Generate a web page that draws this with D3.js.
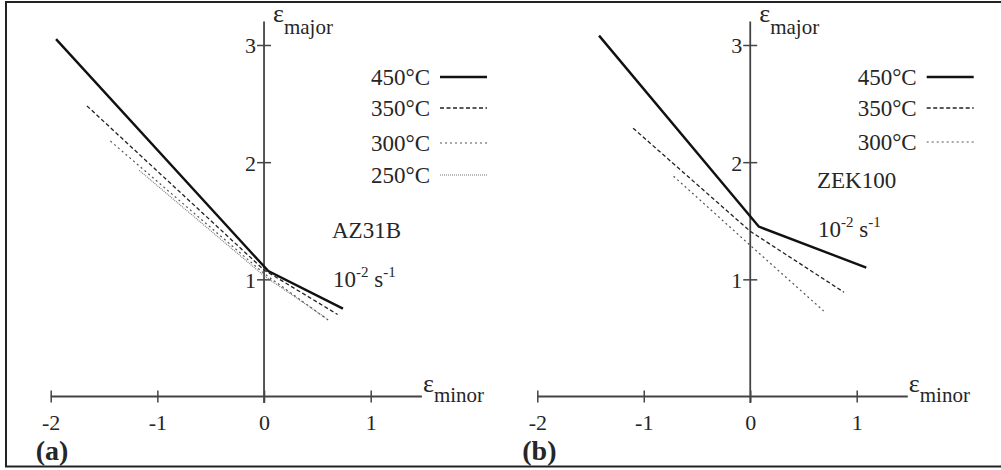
<meta charset="utf-8">
<script src="https://d3js.org/d3.v7.min.js"></script>
<style>
    body { margin: 0; background: #fff; }
    svg text { font-family: "Liberation Serif", serif !important; fill: #262626; }
</style>
<svg width="1001" height="470"></svg>
<script>
    // forming limit curves: [minor strain, major strain]
    var temps_a = ["450°C", "350°C", "300°C", "250°C"];
    var az31b_450 = [[-1.95, 3.05], [0.04, 1.07], [0.74, 0.75]];
    var az31b_350 = [[-1.66, 2.48], [0.0, 1.08], [0.69, 0.70]];
    var az31b_300 = [[-1.44, 2.18], [0.0, 1.05], [0.62, 0.64]];
    var az31b_250 = [[-1.17, 1.93], [0.0, 1.03], [0.58, 0.67]];

    var temps_b = ["450°C", "350°C", "300°C"];
    var zek100_450 = [[-1.42, 3.08], [0.08, 1.45], [1.09, 1.10]];
    var zek100_350 = [[-1.10, 2.29], [0.0, 1.41], [0.88, 0.89]];
    var zek100_300 = [[-0.72, 1.88], [0.0, 1.29], [0.69, 0.73]];

    var xTicks = [-2, -1, 0, 1];
    var yTicks = [1, 2, 3];

    // line styles per temperature
    var styles = {
        "450°C": {w: 2.4, dash: null, c: "#111"},
        "350°C": {w: 1.3, dash: "4,2.5", c: "#222"},
        "300°C": {w: 1.2, dash: "2,3", c: "#555"},
        "250°C": {w: 1.1, dash: "1,1", c: "#777"}
    };

    var svg = d3.select("svg").style("font-family", "Liberation Serif");

    // frame
    svg.append("rect")
        .attr("x", 6).attr("y", 2)
        .attr("width", 1000).attr("height", 464.5)
        .attr("fill", "none")
        .attr("stroke", "#222")
        .attr("stroke-width", 2);

    var panels = [
        {left: 50.7, right: 370.7, tag: "(a)", series: [az31b_450, az31b_350, az31b_300, az31b_250], temps: temps_a,
         legendX: 430, legendY: [77, 108, 143, 175], alloy: "AZ31B", alloyX: 332, alloyY: 238, rateX: 333, rateY: 287},
        {left: 537.3, right: 856.7, tag: "(b)", series: [zek100_450, zek100_350, zek100_300], temps: temps_b,
         legendX: 916.7, legendY: [77, 108, 142], alloy: "ZEK100", alloyX: 817, alloyY: 188, rateX: 818, rateY: 237}
    ];

    var y = d3.scaleLinear().domain([0, 3]).range([396.5, 45]);

    panels.forEach(function(p) {
        var x = d3.scaleLinear().domain([-2, 1]).range([p.left, p.right]);
        var g = svg.append("g");
        var x0 = x(0);

        // x axis
        var gx = g.append("g")
            .attr("transform", "translate(0," + y(0) + ")")
            .call(d3.axisBottom(x).tickValues(xTicks).tickSize(6).tickFormat(d3.format("d")))
            .attr("font-family", null).attr("font-size", null);
        gx.select(".domain").remove();
        gx.selectAll(".tick line").attr("y1", -6).attr("y2", 6).attr("stroke", "#444").attr("stroke-width", 1.5);
        gx.selectAll(".tick text")
            .attr("y", 0).attr("dy", 33)
            .attr("font-size", 22)
            .text(function(d) { return d < 0 ? "-" + Math.abs(d) : d; });
        g.append("line")
            .attr("x1", x(-2)).attr("x2", x(1.48))
            .attr("y1", y(0)).attr("y2", y(0))
            .attr("stroke", "#444").attr("stroke-width", 1.8);

        // y axis
        var gy = g.append("g")
            .attr("transform", "translate(" + x0 + ",0)")
            .call(d3.axisLeft(y).tickValues(yTicks).tickSize(6).tickFormat(d3.format("d")))
            .attr("font-family", null).attr("font-size", null);
        gy.select(".domain").remove();
        gy.selectAll(".tick line").attr("x1", -7).attr("x2", 7).attr("stroke", "#444").attr("stroke-width", 1.5);
        gy.selectAll(".tick text")
            .attr("x", -8).attr("dy", "0.36em")
            .attr("font-size", 22);
        g.append("line")
            .attr("x1", x0).attr("x2", x0)
            .attr("y1", y(-0.055)).attr("y2", y(3.2))
            .attr("stroke", "#444").attr("stroke-width", 1.8);

        // axis titles
        var tMaj = g.append("text").attr("x", x0 + 9).attr("y", 22);
        tMaj.append("tspan").attr("font-size", 26).text("ε");
        tMaj.append("tspan").attr("y", 34).attr("font-size", 21).text("major");
        var tMin = g.append("text").attr("x", x(1.49)).attr("y", 392);
        tMin.append("tspan").attr("font-size", 26).text("ε");
        tMin.append("tspan").attr("y", 402).attr("font-size", 21).text("minor");

        // curves
        var line = d3.line()
            .x(function(d) { return x(d[0]); })
            .y(function(d) { return y(d[1]); });
        p.series.forEach(function(s, i) {
            var st = styles[p.temps[i]];
            g.append("path")
                .datum(s)
                .attr("d", line)
                .attr("fill", "none")
                .attr("stroke", st.c)
                .attr("stroke-width", st.w)
                .attr("stroke-dasharray", st.dash);
        });

        // legend
        p.temps.forEach(function(t, i) {
            var st = styles[t];
            var ly = p.legendY[i];
            g.append("text")
                .attr("x", p.legendX).attr("y", ly + 8)
                .attr("text-anchor", "end")
                .attr("font-size", 23)
                .text(t);
            g.append("line")
                .attr("x1", p.legendX + 10).attr("x2", p.legendX + 57)
                .attr("y1", ly).attr("y2", ly)
                .attr("stroke", st.c)
                .attr("stroke-width", st.w)
                .attr("stroke-dasharray", st.dash);
        });

        // alloy and strain rate
        g.append("text")
            .attr("x", p.alloyX).attr("y", p.alloyY)
            .attr("font-size", 23)
            .text(p.alloy);
        var r = g.append("text").attr("x", p.rateX).attr("y", p.rateY).attr("font-size", 23);
        r.append("tspan").text("10");
        r.append("tspan").attr("dy", -10).attr("font-size", 15).text("-2");
        r.append("tspan").attr("dy", 10).text(" s");
        r.append("tspan").attr("dy", -10).attr("font-size", 15).text("-1");

        // panel tag
        g.append("text")
            .attr("x", p.left - 15).attr("y", 460)
            .attr("font-size", 28)
            .attr("font-weight", "bold")
            .text(p.tag);
    });
</script>
